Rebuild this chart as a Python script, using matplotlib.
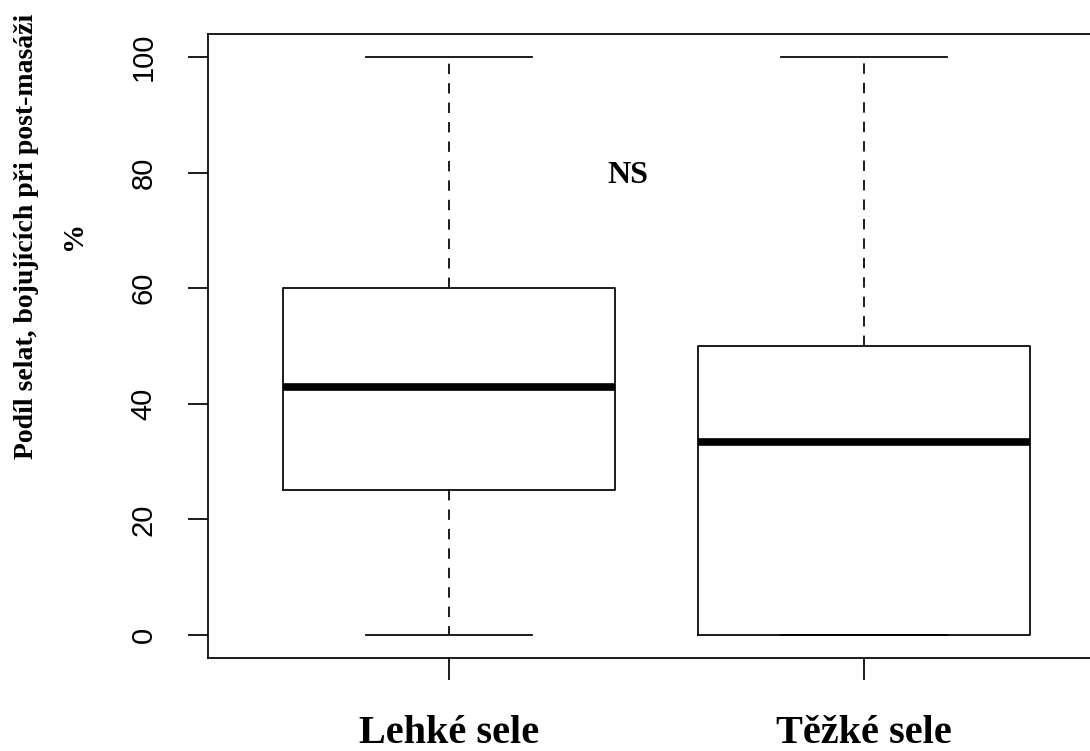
import matplotlib
matplotlib.use("Agg")
import matplotlib.pyplot as plt

# Group labels and five-number summaries (percent of piglets fighting)
groups = ["Lehké sele", "Těžké sele"]
whisker_low = [0, 0]
q1 = [25, 0]
median = [42.86, 33.33]
q3 = [60, 50]
whisker_high = [100, 100]
y_ticks = [0, 20, 40, 60, 80, 100]
annotation = "NS"
y_label_line1 = "Podíl selat, bojujících při post-masáži"
y_label_line2 = "%"

serif = ["Liberation Serif", "DejaVu Serif"]
sans = ["Liberation Sans", "DejaVu Sans"]

W, H = 1090, 751
fig = plt.figure(figsize=(W / 100, H / 100), dpi=100)
ax = fig.add_axes([208 / W, 1 - 658 / H, (1105 - 208) / W, (658 - 34) / H])

stats = []
for i, g in enumerate(groups):
    stats.append(dict(label=g, whislo=whisker_low[i], q1=q1[i], med=median[i],
                      q3=q3[i], whishi=whisker_high[i], fliers=[]))

lw = 1.25
ax.bxp(stats, positions=[1, 2], widths=0.8, capwidths=0.4,
       showfliers=False, patch_artist=False,
       boxprops=dict(color="black", linewidth=lw),
       whiskerprops=dict(color="black", linewidth=lw,
                         linestyle=(0, (7.5 / lw, 6.5 / lw))),
       capprops=dict(color="black", linewidth=lw),
       medianprops=dict(color="black", linewidth=5.5, solid_capstyle="butt"))

ax.set_xlim(0.42, 2.58)
ax.set_ylim(-4, 104)
ax.set_yticks(y_ticks)
ax.set_yticklabels([str(v) for v in y_ticks], rotation=90, va="center",
                   family=sans, fontsize=21)
ax.set_xticks([1, 2])
ax.set_xticklabels(groups, family=serif, fontweight="bold", fontsize=29)
ax.tick_params(axis="y", length=14.4, width=lw, pad=22)
ax.tick_params(axis="x", length=16, width=lw, pad=25)
for s in ax.spines.values():
    s.set_linewidth(lw)

ax.text(1.43, 79.5, annotation, family=serif, fontweight="bold", fontsize=23,
        ha="center", va="center")

fig.text(27 / W, 1 - 236 / H, y_label_line1, rotation=90, ha="center",
         va="center", family=serif, fontweight="bold", fontsize=20)
fig.text(74 / W, 1 - 235 / H, y_label_line2, rotation=90, ha="center",
         va="center", family=serif, fontweight="bold", fontsize=21)

fig.savefig("out.png", dpi=100)
